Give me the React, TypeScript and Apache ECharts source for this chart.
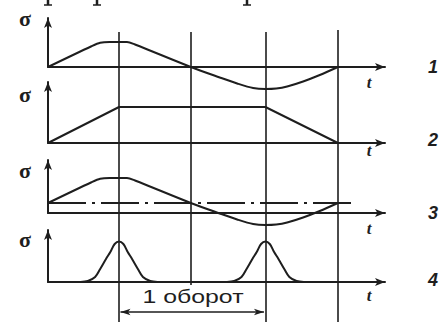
import React, { useEffect, useRef } from "react";
import * as echarts from "echarts";

// time in quarter-revolutions (vertical marker lines at these instants)
const markerTimes = [0.98, 1.97, 3.0, 4.0];
const markerTops = [32, 32, 32, 30];
const markerBottoms = [322, 285, 322, 322];
const xMax = 4.65;

// 1: alternating stress
const curve1: [number, number][] = [
  [0, 0], [0.6, 0.83], [0.72, 0.97], [0.85, 1.0], [1.09, 1.0], [1.2, 0.9], [1.97, 0],
  [2.37, -0.42], [2.61, -0.66], [2.83, -0.84], [3.0, -0.88], [3.15, -0.86], [3.3, -0.78],
  [3.52, -0.58], [3.75, -0.32], [4.0, 0],
];
// 2: constant-amplitude block
const curve2: [number, number][] = [[0, 0], [0.98, 1.44], [3.0, 1.44], [4.0, 0]];
// 3: alternating stress with mean
const curve3: [number, number][] = [
  [0, 0.4], [0.6, 1.23], [0.72, 1.37], [0.85, 1.4], [1.09, 1.4], [1.2, 1.3], [1.97, 0.4],
  [2.37, -0.02], [2.61, -0.26], [2.83, -0.44], [3.0, -0.48], [3.15, -0.46], [3.3, -0.38],
  [3.52, -0.18], [3.75, 0.08], [4.0, 0.4],
];
const meanLevel: [number, number][] = [[0, 0.4], [4.2, 0.4]];
// 4: impulses once per revolution
const pulseA: [number, number][] = [
  [0.45, 0], [0.55, 0.04], [0.65, 0.2], [0.72, 0.52], [0.8, 0.92], [0.86, 1.2], [0.92, 1.52],
  [0.98, 1.62], [1.04, 1.52], [1.1, 1.2], [1.16, 0.92], [1.24, 0.52], [1.31, 0.2], [1.41, 0.04], [1.51, 0],
];
const pulseB: [number, number][] = [
  [2.47, 0], [2.57, 0.04], [2.67, 0.2], [2.74, 0.52], [2.82, 0.92], [2.88, 1.2], [2.94, 1.52],
  [3.0, 1.62], [3.06, 1.52], [3.12, 1.2], [3.18, 0.92], [3.26, 0.52], [3.33, 0.2], [3.43, 0.04], [3.53, 0],
];

const panelLabels = ["1", "2", "3", "4"];
const axisName = "σ";
const timeName = "t";
const revolutionText = "1 оборот";
const revolutionSpan: [number, number] = [0.98, 3.0];

const INK = "#1e1e1e";

export default function App() {
  const ref = useRef<HTMLDivElement>(null);
  useEffect(() => {
    if (!ref.current) return;
    const chart = echarts.init(ref.current, null, { renderer: "svg" });

    const panels = [
      { top: 18, bottom: 324 - 67, yMax: 1.96 },
      { top: 82, bottom: 324 - 143, yMax: 2.44 },
      { top: 160, bottom: 324 - 213, yMax: 2.12 },
      { top: 230, bottom: 324 - 282, yMax: 2.08 },
    ];
    const axisLine = {
      show: true,
      onZero: false,
      symbol: ["none", "arrow"],
      symbolSize: [6, 10],
      lineStyle: { color: INK, width: 2 },
    };
    const grid: any[] = panels.map((p) => ({ left: 48, right: 55, top: p.top, bottom: p.bottom }));
    grid.push({ left: 48, right: 55, top: 0, bottom: 0 });
    const xAxis: any[] = panels.map((_, i) => ({
      type: "value", gridIndex: i, min: 0, max: xMax,
      axisLine, axisTick: { show: false }, axisLabel: { show: false }, splitLine: { show: false },
    }));
    xAxis.push({ type: "value", gridIndex: 4, min: 0, max: xMax, show: false });
    const yAxis: any[] = panels.map((p, i) => ({
      type: "value", gridIndex: i, min: 0, max: p.yMax,
      axisLine, axisTick: { show: false }, axisLabel: { show: false }, splitLine: { show: false },
    }));
    yAxis.push({ type: "value", gridIndex: 4, min: 0, max: 324, inverse: true, show: false });

    const lineSeries = (data: [number, number][], idx: number, smooth: number | boolean = 0.3) => ({
      type: "line",
      xAxisIndex: idx,
      yAxisIndex: idx,
      data,
      smooth,
      clip: false,
      symbol: "none",
      lineStyle: { color: INK, width: 2 },
    });

    const series: any[] = [
      lineSeries(curve1, 0),
      lineSeries(curve2, 1, false),
      lineSeries(curve3, 2),
      {
        type: "line", xAxisIndex: 2, yAxisIndex: 2, data: meanLevel, symbol: "none",
        lineStyle: { color: INK, width: 2, type: [38, 6, 3, 6] },
      },
      lineSeries(pulseA, 3, 0.35),
      lineSeries(pulseB, 3, 0.35),
      {
        type: "line", xAxisIndex: 4, yAxisIndex: 4, data: [], symbol: "none",
        markLine: {
          silent: true,
          symbol: ["none", "none"],
          label: { show: false },
          lineStyle: { color: INK, width: 1.6, type: "solid" },
          data: markerTimes.map((t, i) => [
            { coord: [t, markerTops[i]] },
            { coord: [t, markerBottoms[i]] },
          ]),
        },
      },
      {
        type: "line", xAxisIndex: 4, yAxisIndex: 4, data: [], symbol: "none",
        markLine: {
          silent: true,
          symbol: ["arrow", "arrow"],
          symbolSize: [5, 10],
          label: { show: false },
          lineStyle: { color: INK, width: 1.6, type: "solid" },
          data: [[{ coord: [revolutionSpan[0] + 0.02, 312] }, { coord: [revolutionSpan[1] - 0.02, 312] }]],
        },
      },
    ];

    const sigmaY = [18, 94, 170, 239];
    const tY = [82, 150, 228, 295];
    const numY = [67, 140, 213, 280];
    const graphic: any[] = [];
    sigmaY.forEach((y) =>
      graphic.push({
        type: "text", x: 25, y,
        style: { text: axisName, fontFamily: "Liberation Serif", fontSize: 22, fontWeight: "bold", fill: INK, align: "center", verticalAlign: "middle" },
      })
    );
    tY.forEach((y) =>
      graphic.push({
        type: "text", x: 369, y,
        style: { text: timeName, fontFamily: "Liberation Serif", fontSize: 17, fontStyle: "italic", fontWeight: "bold", fill: INK, align: "center", verticalAlign: "middle" },
      })
    );
    numY.forEach((y, i) =>
      graphic.push({
        type: "text", x: 433, y,
        style: { text: panelLabels[i], fontFamily: "Liberation Sans", fontSize: 18, fontStyle: "italic", fontWeight: "bold", fill: INK, align: "center", verticalAlign: "middle" },
      })
    );
    graphic.push({
      type: "text", x: 193, y: 297, scaleX: 1.38,
      style: { text: revolutionText, fontFamily: "Liberation Sans", fontSize: 18, fill: INK, align: "center", verticalAlign: "middle" },
    });
    // stubs of the preceding (cropped) line of the page
    [48, 97, 247].forEach((x) => {
      graphic.push({ type: "line", shape: { x1: x, y1: 0, x2: x, y2: 5 }, style: { stroke: INK, lineWidth: 2.5 } });
      graphic.push({ type: "line", shape: { x1: x - 4, y1: 5, x2: x + 4, y2: 5 }, style: { stroke: INK, lineWidth: 1.5 } });
    });

    chart.setOption({
      animation: false,
      backgroundColor: "#ffffff",
      grid, xAxis, yAxis, series, graphic,
    });
    return () => chart.dispose();
  }, []);
  return <div ref={ref} style={{ width: 440, height: 324, position: "absolute", left: 0, top: 0 }} />;
}
